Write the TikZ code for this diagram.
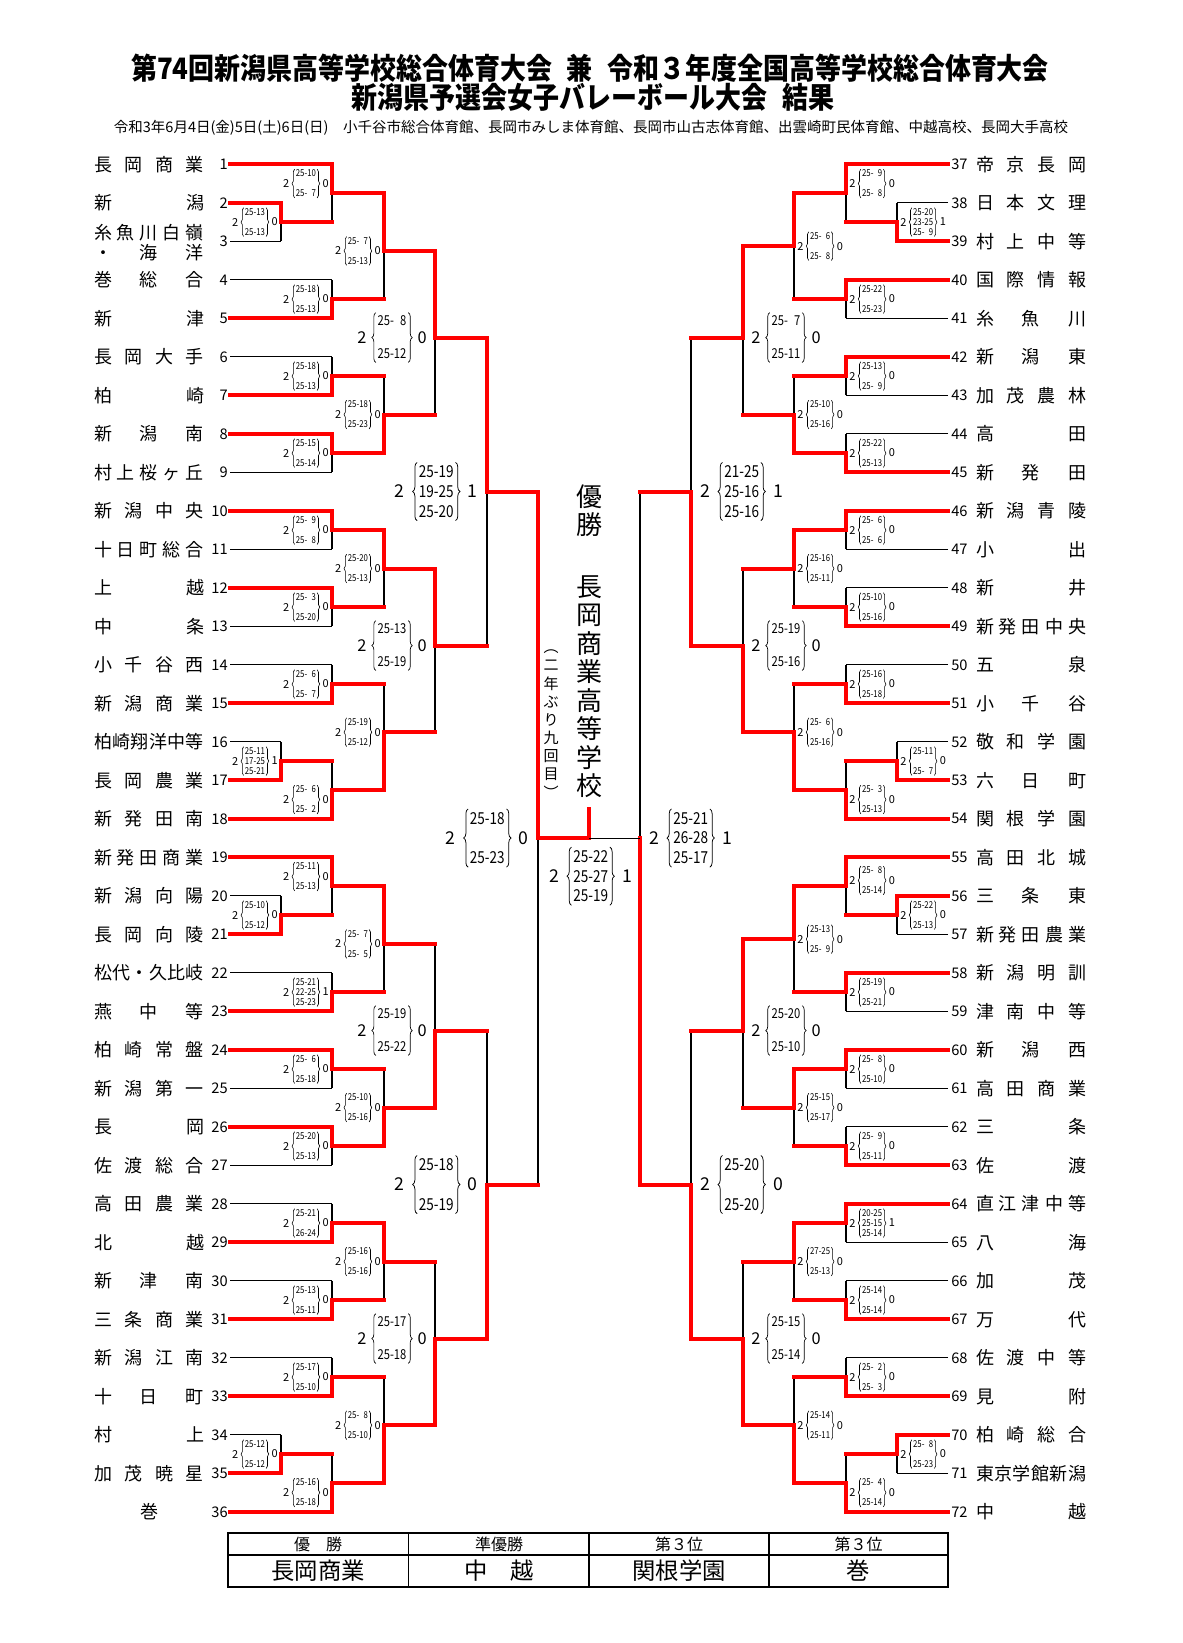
\documentclass[tikz,border=0pt]{standalone}
\usepackage{fontspec}
\setmainfont{Noto Sans CJK JP}
\newfontfamily\scfont[FakeStretch=0.82]{Noto Sans CJK JP}
\newfontfamily\ttlfont[FakeStretch=0.88]{Noto Sans CJK JP}
\usetikzlibrary{calc,backgrounds,decorations.pathreplacing}
\definecolor{bracketred}{HTML}{FF0000}

% row -> y (px), rows 1..36 on each side
\newcommand\rowy[1]{164.3+(#1-1)*38.5}
\newcommand\fsp{\hphantom{0}}
\newcommand\two[2]{#1\\\mbox{}\\#2}
% spread a school name over a fixed width
\newlength\namew \setlength\namew{66pt}
\newcommand\jnstop{}
\def\jnfirst#1{\ifx#1\jnstop\else#1\expandafter\jnnext\fi}
\def\jnnext#1{\ifx#1\jnstop\else\hfill#1\expandafter\jnnext\fi}
\newcommand\jname[1]{\edef\jntmp{#1}\makebox[\namew]{\expandafter\jnfirst\jntmp\jnstop}}

\def\sgaps{3}\def\sgapm{8}\def\sgapb{9}
\def\sdists{5}\def\sdistm{9}\def\sdistb{12}

\tikzset{
  win/.style={draw=bracketred, line width=2.4pt, line cap=rect},
  lose/.style={draw=black, line width=0.65pt},
  tname/.style={inner sep=0pt, font=\fontsize{10.8}{12}\selectfont},
  tnum/.style={inner sep=0pt, font=\fontsize{8.8}{10}\selectfont},
  sets s/.style={inner sep=0pt, font=\fontsize{6.6}{7}\selectfont},
  sets m/.style={inner sep=0pt, font=\fontsize{9.8}{11}\selectfont},
  sets b/.style={inner sep=0pt, font=\fontsize{10.6}{12}\selectfont},
  games s/.style={inner xsep=0.6pt, inner ysep=0.3pt, align=center, font=\scfont\fontsize{5.7}{6}\selectfont},
  games m/.style={inner xsep=0.9pt, inner ysep=1.8pt, align=center, font=\scfont\fontsize{8.2}{9.9}\selectfont},
  games b/.style={inner xsep=0.9pt, inner ysep=1.8pt, align=center, font=\scfont\fontsize{9.9}{11.8}\selectfont},
  brace s/.style={decorate, decoration={brace, amplitude=1.5pt}, line width=0.35pt},
  brace m/.style={decorate, decoration={brace, amplitude=2.4pt}, line width=0.4pt},
  brace b/.style={decorate, decoration={brace, amplitude=2.7pt}, line width=0.45pt},
  ttl/.style={inner sep=0pt, font=\ttlfont\bfseries\fontsize{17.7}{20}\selectfont},
  venue/.style={inner sep=0pt, font=\fontsize{8.7}{10}\selectfont},
  champ/.style={inner sep=0pt, align=center, font=\fontsize{15.6}{17.1}\selectfont},
  note/.style={inner sep=0pt, align=center, font=\fontsize{9}{10.9}\selectfont},
  cellhead/.style={inner sep=0pt, font=\fontsize{9.6}{11}\selectfont},
  cellbody/.style={inner sep=0pt, font=\fontsize{14}{16}\selectfont}
}

% match: name, x, row, winner, loser, style of loser's stub
\newcommand\mt[6]{%
  \coordinate (#1) at (#2,{\rowy{#3}});
  \draw[win] (#4) -- (#4 -| #1) -- (#1);
  \draw[#6] (#5) -- (#5 -| #1);
  \begin{pgfonlayer}{background}
    \draw[lose] (#5 -| #1) -- (#1);
  \end{pgfonlayer}}

% score left of a match line: match, size, row, games, sets of loser
\newcommand\scL[5]{%
  \coordinate (sy) at (0,{\rowy{#3}});
  \coordinate (#1c) at (#1 |- sy);
  \node[sets #2, anchor=east] (#1r) at ([shift={(-\csname sgap#2\endcsname,0)}]#1c) {#5};
  \node[games #2, anchor=east] (#1g) at ([shift={(-\csname sdist#2\endcsname,0)}]#1r.west) {#4};
  \node[sets #2, anchor=east] (#1l) at ([shift={(-\csname sdist#2\endcsname,0)}]#1g.west) {2};
  \draw[brace #2] (#1g.south west) -- (#1g.north west);
  \draw[brace #2] (#1g.north east) -- (#1g.south east);}

% score right of a match line
\newcommand\scR[5]{%
  \coordinate (sy) at (0,{\rowy{#3}});
  \coordinate (#1c) at (#1 |- sy);
  \node[sets #2, anchor=west] (#1l) at ([shift={(\csname sgap#2\endcsname,0)}]#1c) {2};
  \node[games #2, anchor=west] (#1g) at ([shift={(\csname sdist#2\endcsname,0)}]#1l.east) {#4};
  \node[sets #2, anchor=west] (#1r) at ([shift={(\csname sdist#2\endcsname,0)}]#1g.east) {#5};
  \draw[brace #2] (#1g.south west) -- (#1g.north west);
  \draw[brace #2] (#1g.north east) -- (#1g.south east);}

\begin{document}
\begin{tikzpicture}[x=0.6pt, y=-0.6pt]
  \useasboundingbox (0,0) rectangle (1182,1643);
  \begin{pgfonlayer}{background}
    \fill[white] (0,0) rectangle (1182,1643);
  \end{pgfonlayer}

  % heading
  \node[ttl] (title1) at (590,68) {第74回新潟県高等学校総合体育大会\hspace{.5em}兼\hspace{.5em}令和３年度全国高等学校総合体育大会};
  \node[ttl] (title2) at (593,97) {新潟県予選会女子バレーボール大会\hspace{.5em}結果};
  \node[venue] (venue) at (591,128) {令和3年6月4日(金)5日(土)6日(日)\hspace{1em}小千谷市総合体育館、長岡市みしま体育館、長岡市山古志体育館、出雲崎町民体育館、中越高校、長岡大手高校};

  % teams, left
  \foreach \n/\nm in {1/長岡商業, 2/新潟, 4/巻総合, 5/新津, 6/長岡大手, 7/柏崎, 8/新潟南, 9/村上桜ヶ丘,
      10/新潟中央, 11/十日町総合, 12/上越, 13/中条, 14/小千谷西, 15/新潟商業, 16/柏崎翔洋中等, 17/長岡農業, 18/新発田南,
      19/新発田商業, 20/新潟向陽, 21/長岡向陵, 22/松代・久比岐, 23/燕中等, 24/柏崎常盤, 25/新潟第一, 26/長岡, 27/佐渡総合,
      28/高田農業, 29/北越, 30/新津南, 31/三条商業, 32/新潟江南, 33/十日町, 34/村上, 35/加茂暁星, 36/巻} {
    \coordinate (t\n) at (230,{\rowy{\n}});
    \node[tnum, anchor=east] (num\n) at (228,{\rowy{\n}}) {\n};
    \node[tname] (name\n) at (149,{\rowy{\n}}) {\jname{\nm}};
  }
  \coordinate (t3) at (230,{\rowy{3}});
  \node[tnum, anchor=east] (num3) at (228,{\rowy{3}}) {3};
  \node[tname, align=left] (name3) at (149,243) {\jname{糸魚川白嶺}\\\jname{・海洋}};

  % teams, right
  \foreach \n/\nm in {37/帝京長岡, 38/日本文理, 39/村上中等, 40/国際情報, 41/糸魚川, 42/新潟東, 43/加茂農林, 44/高田, 45/新発田,
      46/新潟青陵, 47/小出, 48/新井, 49/新発田中央, 50/五泉, 51/小千谷, 52/敬和学園, 53/六日町, 54/関根学園,
      55/高田北城, 56/三条東, 57/新発田農業, 58/新潟明訓, 59/津南中等, 60/新潟西, 61/高田商業, 62/三条, 63/佐渡,
      64/直江津中等, 65/八海, 66/加茂, 67/万代, 68/佐渡中等, 69/見附, 70/柏崎総合, 71/東京学館新潟, 72/中越} {
    \coordinate (t\n) at (948,{\rowy{\n-36}});
    \node[tnum, anchor=west] (num\n) at (951,{\rowy{\n-36}}) {\n};
    \node[tname] (name\n) at (1031,{\rowy{\n-36}}) {\jname{\nm}};
  }

  % left half
  \mt{a1}{281}{2.5}{t2}{t3}{lose}
  \mt{a2}{332}{1.75}{t1}{a1}{win}
  \mt{a3}{332}{4.5}{t5}{t4}{lose}
  \mt{a4}{384}{3.25}{a2}{a3}{win}
  \mt{a5}{332}{6.5}{t7}{t6}{lose}
  \mt{a6}{332}{8.5}{t8}{t9}{lose}
  \mt{a7}{384}{7.5}{a6}{a5}{win}
  \mt{a8}{435}{5.5}{a4}{a7}{win}
  \mt{b1}{332}{10.5}{t10}{t11}{lose}
  \mt{b2}{332}{12.5}{t12}{t13}{lose}
  \mt{b3}{384}{11.5}{b1}{b2}{win}
  \mt{b4}{332}{14.5}{t15}{t14}{lose}
  \mt{b5}{281}{16.5}{t17}{t16}{lose}
  \mt{b6}{332}{17.25}{t18}{b5}{win}
  \mt{b7}{384}{15.75}{b6}{b4}{win}
  \mt{b8}{435}{13.5}{b3}{b7}{win}
  \mt{c1}{281}{20.5}{t21}{t20}{lose}
  \mt{c2}{332}{19.75}{t19}{c1}{win}
  \mt{c3}{332}{22.5}{t23}{t22}{lose}
  \mt{c4}{384}{21.25}{c2}{c3}{win}
  \mt{c5}{332}{24.5}{t24}{t25}{lose}
  \mt{c6}{332}{26.5}{t26}{t27}{lose}
  \mt{c7}{384}{25.5}{c6}{c5}{win}
  \mt{c8}{435}{23.5}{c7}{c4}{win}
  \mt{d1}{332}{28.5}{t29}{t28}{lose}
  \mt{d2}{332}{30.5}{t31}{t30}{lose}
  \mt{d3}{384}{29.5}{d1}{d2}{win}
  \mt{d4}{332}{32.5}{t33}{t32}{lose}
  \mt{d5}{281}{34.5}{t35}{t34}{lose}
  \mt{d6}{332}{35.25}{t36}{d5}{win}
  \mt{d7}{384}{33.75}{d6}{d4}{win}
  \mt{d8}{435}{31.5}{d7}{d3}{win}
  \mt{h1}{487}{9.5}{a8}{b8}{win}
  \mt{h2}{487}{27.5}{d8}{c8}{win}
  \mt{s1}{538}{18.5}{h1}{h2}{win}

  % right half
  \mt{e1}{897}{2.5}{t39}{t38}{lose}
  \mt{e2}{846}{1.75}{t37}{e1}{win}
  \mt{e3}{846}{4.5}{t40}{t41}{lose}
  \mt{e4}{794}{3.125}{e2}{e3}{win}
  \mt{e5}{846}{6.5}{t42}{t43}{lose}
  \mt{e6}{846}{8.5}{t45}{t44}{lose}
  \mt{e7}{794}{7.5}{e6}{e5}{win}
  \mt{e8}{743}{5.5}{e4}{e7}{win}
  \mt{f1}{846}{10.5}{t46}{t47}{lose}
  \mt{f2}{846}{12.5}{t49}{t48}{lose}
  \mt{f3}{794}{11.5}{f1}{f2}{win}
  \mt{f4}{846}{14.5}{t51}{t50}{lose}
  \mt{f5}{897}{16.5}{t53}{t52}{lose}
  \mt{f6}{846}{17.25}{t54}{f5}{win}
  \mt{f7}{794}{15.75}{f6}{f4}{win}
  \mt{f8}{743}{13.5}{f7}{f3}{win}
  \mt{g1}{897}{20.5}{t56}{t57}{lose}
  \mt{g2}{846}{19.75}{t55}{g1}{win}
  \mt{g3}{846}{22.5}{t58}{t59}{lose}
  \mt{g4}{794}{21.125}{g2}{g3}{win}
  \mt{g5}{846}{24.5}{t60}{t61}{lose}
  \mt{g6}{846}{26.5}{t63}{t62}{lose}
  \mt{g7}{794}{25.5}{g5}{g6}{win}
  \mt{g8}{743}{23.5}{g4}{g7}{win}
  \mt{k1}{846}{28.5}{t64}{t65}{lose}
  \mt{k2}{846}{30.5}{t67}{t66}{lose}
  \mt{k3}{794}{29.5}{k1}{k2}{win}
  \mt{k4}{846}{32.5}{t69}{t68}{lose}
  \mt{k5}{897}{34.5}{t70}{t71}{lose}
  \mt{k6}{846}{35.25}{t72}{k5}{win}
  \mt{k7}{794}{33.75}{k6}{k4}{win}
  \mt{k8}{743}{31.5}{k7}{k3}{win}
  \mt{h3}{691}{9.5}{f8}{e8}{win}
  \mt{h4}{691}{27.5}{k8}{g8}{win}
  \mt{s2}{640}{18.5}{h4}{h3}{win}

  % final
  \coordinate (fin) at (589,{\rowy{18.5}});
  \coordinate (top) at (589,809);
  \draw[win] (s1) -- (fin) -- (top);
  \draw[lose] (s2) -- (fin);

  % scores, left
  \scL{a1}{s}{2.5}{\two{25-13}{25-13}}{0}
  \scL{a2}{s}{1.5}{\two{25-10}{25-\fsp7}}{0}
  \scL{a3}{s}{4.5}{\two{25-18}{25-13}}{0}
  \scL{a4}{s}{3.25}{\two{25-\fsp7}{25-13}}{0}
  \scL{a5}{s}{6.5}{\two{25-18}{25-13}}{0}
  \scL{a6}{s}{8.5}{\two{25-15}{25-14}}{0}
  \scL{a7}{s}{7.5}{\two{25-18}{25-23}}{0}
  \scL{a8}{m}{5.5}{\two{25-\fsp8}{25-12}}{0}
  \scL{b1}{s}{10.5}{\two{25-\fsp9}{25-\fsp8}}{0}
  \scL{b2}{s}{12.5}{\two{25-\fsp3}{25-20}}{0}
  \scL{b3}{s}{11.5}{\two{25-20}{25-13}}{0}
  \scL{b4}{s}{14.5}{\two{25-\fsp6}{25-\fsp7}}{0}
  \scL{b5}{s}{16.5}{25-11\\17-25\\25-21}{1}
  \scL{b6}{s}{17.5}{\two{25-\fsp6}{25-\fsp2}}{0}
  \scL{b7}{s}{15.75}{\two{25-19}{25-12}}{0}
  \scL{b8}{m}{13.5}{\two{25-13}{25-19}}{0}
  \scL{c1}{s}{20.5}{\two{25-10}{25-12}}{0}
  \scL{c2}{s}{19.5}{\two{25-11}{25-13}}{0}
  \scL{c3}{s}{22.5}{25-21\\22-25\\25-23}{1}
  \scL{c4}{s}{21.25}{\two{25-\fsp7}{25-\fsp5}}{0}
  \scL{c5}{s}{24.5}{\two{25-\fsp6}{25-18}}{0}
  \scL{c6}{s}{26.5}{\two{25-20}{25-13}}{0}
  \scL{c7}{s}{25.5}{\two{25-10}{25-16}}{0}
  \scL{c8}{m}{23.5}{\two{25-19}{25-22}}{0}
  \scL{d1}{s}{28.5}{\two{25-21}{26-24}}{0}
  \scL{d2}{s}{30.5}{\two{25-13}{25-11}}{0}
  \scL{d3}{s}{29.5}{\two{25-16}{25-16}}{0}
  \scL{d4}{s}{32.5}{\two{25-17}{25-10}}{0}
  \scL{d5}{s}{34.5}{\two{25-12}{25-12}}{0}
  \scL{d6}{s}{35.5}{\two{25-16}{25-18}}{0}
  \scL{d7}{s}{33.75}{\two{25-\fsp8}{25-10}}{0}
  \scL{d8}{m}{31.5}{\two{25-17}{25-18}}{0}
  \scL{h1}{b}{9.5}{25-19\\19-25\\25-20}{1}
  \scL{h2}{b}{27.5}{\two{25-18}{25-19}}{0}
  \scL{s1}{b}{18.5}{\two{25-18}{25-23}}{0}

  % scores, right
  \scR{e1}{s}{2.5}{25-20\\23-25\\25-\fsp9}{1}
  \scR{e2}{s}{1.5}{\two{25-\fsp9}{25-\fsp8}}{0}
  \scR{e3}{s}{4.5}{\two{25-22}{25-23}}{0}
  \scR{e4}{s}{3.125}{\two{25-\fsp6}{25-\fsp8}}{0}
  \scR{e5}{s}{6.5}{\two{25-13}{25-\fsp9}}{0}
  \scR{e6}{s}{8.5}{\two{25-22}{25-13}}{0}
  \scR{e7}{s}{7.5}{\two{25-10}{25-16}}{0}
  \scR{e8}{m}{5.5}{\two{25-\fsp7}{25-11}}{0}
  \scR{f1}{s}{10.5}{\two{25-\fsp6}{25-\fsp6}}{0}
  \scR{f2}{s}{12.5}{\two{25-10}{25-16}}{0}
  \scR{f3}{s}{11.5}{\two{25-16}{25-11}}{0}
  \scR{f4}{s}{14.5}{\two{25-16}{25-18}}{0}
  \scR{f5}{s}{16.5}{\two{25-11}{25-\fsp7}}{0}
  \scR{f6}{s}{17.5}{\two{25-\fsp3}{25-13}}{0}
  \scR{f7}{s}{15.75}{\two{25-\fsp6}{25-16}}{0}
  \scR{f8}{m}{13.5}{\two{25-19}{25-16}}{0}
  \scR{g1}{s}{20.5}{\two{25-22}{25-13}}{0}
  \scR{g2}{s}{19.6}{\two{25-\fsp8}{25-14}}{0}
  \scR{g3}{s}{22.5}{\two{25-19}{25-21}}{0}
  \scR{g4}{s}{21.125}{\two{25-13}{25-\fsp9}}{0}
  \scR{g5}{s}{24.5}{\two{25-\fsp8}{25-10}}{0}
  \scR{g6}{s}{26.5}{\two{25-\fsp9}{25-11}}{0}
  \scR{g7}{s}{25.5}{\two{25-15}{25-17}}{0}
  \scR{g8}{m}{23.5}{\two{25-20}{25-10}}{0}
  \scR{k1}{s}{28.5}{20-25\\25-15\\25-14}{1}
  \scR{k2}{s}{30.5}{\two{25-14}{25-14}}{0}
  \scR{k3}{s}{29.5}{\two{27-25}{25-13}}{0}
  \scR{k4}{s}{32.5}{\two{25-\fsp2}{25-\fsp3}}{0}
  \scR{k5}{s}{34.5}{\two{25-\fsp8}{25-23}}{0}
  \scR{k6}{s}{35.5}{\two{25-\fsp4}{25-14}}{0}
  \scR{k7}{s}{33.75}{\two{25-14}{25-11}}{0}
  \scR{k8}{m}{31.5}{\two{25-15}{25-14}}{0}
  \scR{h3}{b}{9.5}{21-25\\25-16\\25-16}{1}
  \scR{h4}{b}{27.5}{\two{25-20}{25-20}}{0}
  \scR{s2}{b}{18.5}{25-21\\26-28\\25-17}{1}
  \coordinate (fsc) at (540,876);
  \scR{fsc}{b}{19.49}{25-22\\25-27\\25-19}{1}

  % champion
  \node[champ] (yusho) at (589,510.5) {優\\勝};
  \node[champ] (winner) at (589,686.5) {長\\岡\\商\\業\\高\\等\\学\\校};
  \node[note] (times) at (551,724) {︵\\二\\年\\ぶ\\り\\九\\回\\目\\︶};

  % result table
  \draw[line width=1.1pt] (228,1533) rectangle (948,1587);
  \draw[line width=0.8pt] (228,1555) -- (948,1555);
  \foreach \cx in {408.7,589,769}
    \draw[line width=0.8pt] (\cx,1533) -- (\cx,1587);
  \node[cellhead] (head1) at (318,1544) {優　勝};
  \node[cellhead] (head2) at (499,1544) {準優勝};
  \node[cellhead] (head3) at (679,1544) {第３位};
  \node[cellhead] (head4) at (858.5,1544) {第３位};
  \node[cellbody] (place1) at (318,1571) {長岡商業};
  \node[cellbody] (place2) at (499,1571) {中　越};
  \node[cellbody] (place3) at (679,1571) {関根学園};
  \node[cellbody] (place4) at (858.5,1571) {巻};
\end{tikzpicture}
\end{document}
